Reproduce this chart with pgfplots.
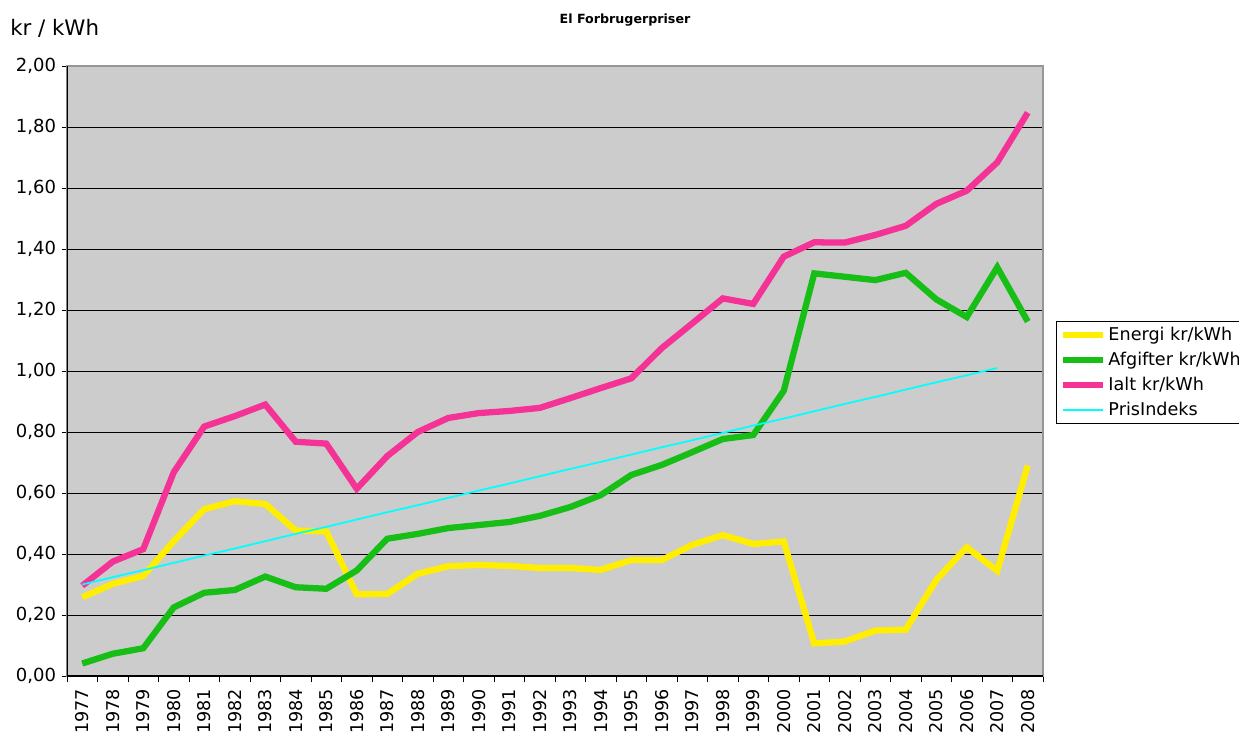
\documentclass[border=0pt]{standalone}
\usepackage{pgfplots}
\pgfplotsset{compat=1.18}
\usepackage{fontspec}
\setmainfont{DejaVu Sans}
\definecolor{bggray}{RGB}{204,204,204}
\definecolor{cyellow}{RGB}{255,238,0}
\definecolor{cgreen}{RGB}{22,190,22}
\definecolor{cpink}{RGB}{245,50,150}
\definecolor{ccyan}{RGB}{0,255,255}
\definecolor{bordergray}{RGB}{150,150,150}
\begin{document}
\begin{tikzpicture}
\path[use as bounding box] (-50.25pt,-42.75pt) rectangle (879pt,507pt);
\begin{axis}[
  scale only axis,
  width=732pt, height=457.5pt,
  xmin=-0.5, xmax=31.5,
  ymin=0, ymax=2,
  ytick={0,0.2,...,2.01},
  xtick={0,...,31},
  xticklabels={1977,1978,1979,1980,1981,1982,1983,1984,1985,1986,1987,1988,1989,1990,1991,1992,1993,1994,1995,1996,1997,1998,1999,2000,2001,2002,2003,2004,2005,2006,2007,2008},
  minor xtick={-0.5,0.5,...,31.6},
  x tick label style={rotate=90, anchor=east, font=\fontsize{13.2pt}{14pt}\selectfont, inner sep=0pt, xshift=-5.5pt},
  y tick label style={font=\fontsize{13.5pt}{14pt}\selectfont, inner sep=0pt, xshift=-4pt},
  yticklabel style={/pgf/number format/.cd, fixed, fixed zerofill, precision=2, use comma, assume math mode=true},
  major x tick style={draw=none},
  minor x tick style={black, line width=0.6pt},
  minor tick length=4.5pt,
  major tick length=4pt,
  tick align=outside,
  tick pos=left,
  y tick style={black, line width=0.6pt},
  ymajorgrids,
  grid style={black, line width=0.7pt},
  axis line style={draw=bordergray, line width=0.8pt},
  axis background/.style={fill=bggray},
  title={\textbf{El Forbrugerpriser}},
  title style={at={(axis description cs:0.5717,1.0787)}, anchor=center, yshift=-7.5pt, font=\fontsize{9.5pt}{10pt}\selectfont},
  ylabel={kr / kWh},
  ylabel style={rotate=-90, at={(axis description cs:-0.0584,1.0623)}, anchor=west, inner sep=0pt, font=\fontsize{16pt}{17pt}\selectfont},
  legend style={at={(axis description cs:1.0133,0.582)}, anchor=north west, draw=black, line width=0.6pt, fill=white, font=\fontsize{13.2pt}{14pt}\selectfont, row sep=3.2pt, inner sep=2.5pt},
  legend cell align=left,
  legend image code/.code={\draw[#1] (0cm,0cm) -- (1.05cm,0cm);},
  every axis plot/.append style={line join=miter},
]
\addplot[cyellow, line width=4.7pt] coordinates {
(0,0.258) (1,0.302) (2,0.328) (3,0.442) (4,0.547) (5,0.573) (6,0.564) (7,0.477) (8,0.474) (9,0.268) (10,0.269) (11,0.335) (12,0.360) (13,0.364) (14,0.361) (15,0.354) (16,0.354) (17,0.348) (18,0.380) (19,0.380) (20,0.430) (21,0.462) (22,0.433) (23,0.441) (24,0.107) (25,0.113) (26,0.149) (27,0.152) (28,0.315) (29,0.422) (30,0.345) (31,0.690)};
\addlegendentry{Energi kr/kWh}
\addplot[cgreen, line width=4.7pt] coordinates {
(0,0.041) (1,0.073) (2,0.091) (3,0.225) (4,0.273) (5,0.282) (6,0.326) (7,0.291) (8,0.286) (9,0.346) (10,0.450) (11,0.466) (12,0.485) (13,0.495) (14,0.505) (15,0.525) (16,0.554) (17,0.593) (18,0.659) (19,0.692) (20,0.734) (21,0.777) (22,0.790) (23,0.935) (24,1.320) (25,1.309) (26,1.298) (27,1.322) (28,1.235) (29,1.177) (30,1.340) (31,1.162)};
\addlegendentry{Afgifter kr/kWh}
\addplot[cpink, line width=4.7pt] coordinates {
(0,0.296) (1,0.375) (2,0.416) (3,0.668) (4,0.818) (5,0.852) (6,0.890) (7,0.768) (8,0.762) (9,0.614) (10,0.721) (11,0.800) (12,0.846) (13,0.862) (14,0.869) (15,0.879) (16,0.911) (17,0.944) (18,0.976) (19,1.075) (20,1.156) (21,1.238) (22,1.220) (23,1.375) (24,1.422) (25,1.421) (26,1.446) (27,1.476) (28,1.548) (29,1.591) (30,1.684) (31,1.847)};
\addlegendentry{Ialt kr/kWh}
\addplot[ccyan, line width=1.3pt] coordinates {
(0,0.300) (1,0.324) (2,0.347) (3,0.371) (4,0.395) (5,0.418) (6,0.442) (7,0.466) (8,0.489) (9,0.513) (10,0.537) (11,0.560) (12,0.584) (13,0.608) (14,0.631) (15,0.655) (16,0.679) (17,0.702) (18,0.726) (19,0.750) (20,0.773) (21,0.797) (22,0.821) (23,0.844) (24,0.868) (25,0.892) (26,0.915) (27,0.939) (28,0.963) (29,0.986) (30,1.010)};
\addlegendentry{PrisIndeks}
\draw[black, line width=0.8pt] (rel axis cs:0,1) -- (rel axis cs:0,0) -- (rel axis cs:1,0);
\end{axis}
\end{tikzpicture}
\end{document}
